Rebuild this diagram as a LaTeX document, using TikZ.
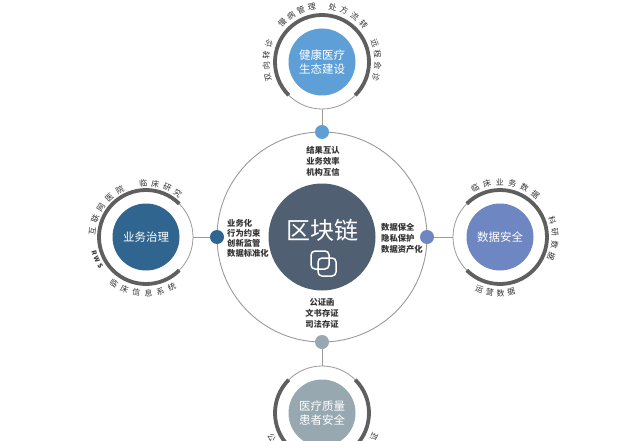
\documentclass[tikz,border=0pt]{standalone}
\usepackage{fontspec}
\setmainfont{Noto Sans CJK SC}
\usetikzlibrary{calc}
\definecolor{cTop}{HTML}{5E9FD8}
\definecolor{cLeft}{HTML}{30658F}
\definecolor{cRight}{HTML}{6E86C1}
\definecolor{cBot}{HTML}{97A8B1}
\definecolor{cMid}{HTML}{506072}
\definecolor{ringc}{HTML}{9A9A9A}
\definecolor{arcc}{HTML}{5F5F5F}
\definecolor{labc}{HTML}{333333}
\newcommand\arclab[7]{%
  \foreach \ch [count=\i] in {#7}{%
    \pgfmathsetmacro\ang{#4+(\i-1)*(#5)}%
    \pgfmathsetmacro\rot{\ang+#6}%
    \node[lab, rotate=\rot] (#1\i) at ($(#2)+(\ang:#3)$) {\ch};
  }}
\begin{document}
\begin{tikzpicture}[x=1pt,y=1pt,
  lab/.style={font=\fontsize{8}{9}\selectfont, text=labc, inner sep=0pt},
  rws/.style={font=\bfseries\fontsize{6.5}{7}\selectfont, text=labc, inner sep=0pt},
  hub/.style={circle, inner sep=0pt, minimum size=67pt, text=white, align=center,
              font=\fontsize{11.5}{14.5}\selectfont},
  dotn/.style={circle, inner sep=0pt, minimum size=14pt},
  ring/.style={draw=ringc, line width=0.8pt},
  bigarc/.style={draw=arcc, line width=3.8pt},
  conn/.style={draw=ringc, line width=1pt},
  inner/.style={font=\bfseries\fontsize{8.3}{11}\selectfont, text=labc, inner sep=0pt}]
\useasboundingbox (0,0) rectangle (639,440);
\fill[white] (0,0) rectangle (639,440);

% centre
\coordinate (M) at (322,203);
\draw[draw=ringc, line width=0.9pt] (M) circle (105);

% hub centres and ring end points
\coordinate (Tc) at (322,378);
\coordinate (Bc) at (322,27);
\coordinate (Lc) at (146,203);
\coordinate (Rc) at (500,203);
\coordinate (Te) at ($(Tc)+(0,-47)$);
\coordinate (Be) at ($(Bc)+(0,47)$);
\coordinate (Le) at ($(Lc)+(47,0)$);
\coordinate (Re) at ($(Rc)+(-47,0)$);

% dots on the big circle
\node[dotn, fill=cTop]   (dT) at ($(M)+(90:105)$) {};
\node[dotn, fill=cBot]   (dB) at ($(M)+(270:105)$) {};
\node[dotn, fill=cLeft]  (dL) at ($(M)+(180:105)$) {};
\node[dotn, fill=cRight] (dR) at ($(M)+(0:105)$) {};

% connectors
\draw[conn] (Te) -- (dT);
\draw[conn] (Be) -- (dB);
\draw[conn] (Le) -- (dL);
\draw[conn] (Re) -- (dR);

% rings
\foreach \c in {Tc,Bc,Lc,Rc} \draw[ring] (\c) circle (47);
\draw[bigarc] ($(Tc)+(-45:47)$) arc[start angle=-45, end angle=225, radius=47];
\draw[bigarc] ($(Bc)+(135:47)$) arc[start angle=135, end angle=405, radius=47];
\draw[bigarc] ($(Lc)+(45:47)$) arc[start angle=45, end angle=315, radius=47];
\draw[bigarc] ($(Rc)+(135:47)$) arc[start angle=135, end angle=-135, radius=47];

% hubs
\node[hub, fill=cTop]   (T) at (Tc) {健康医疗\\生态建设};
\node[hub, fill=cBot]   (B) at (Bc) {医疗质量\\患者安全};
\node[hub, fill=cLeft]  (L) at (Lc) {业务治理};
\node[hub, fill=cRight] (R) at (Rc) {数据安全};

% centre hub
\node[circle, fill=cMid, inner sep=0pt, minimum size=107pt] (C) at (M) {};
\node[text=white, inner sep=0pt, font=\fontsize{24}{24}\selectfont] (Ct) at (322,210) {区块链};
\draw[white, line width=1.5pt, rounded corners=4pt] (311,171) rectangle (329,189);
\draw[white, line width=1.5pt, rounded corners=4pt] (318,164) rectangle (336,182);

% inner texts
\node[inner, align=center] (iT) at (323,279) {结果互认\\业务效率\\机构互信};
\node[inner, align=center] (iB) at (322,127) {公证函\\文书存证\\司法存证};
\node[inner, align=left, anchor=west, font=\bfseries\fontsize{8.3}{10}\selectfont] (iL) at (227,202) {业务化\\行为约束\\创新监管\\数据标准化};
\node[inner, align=left, anchor=west] (iR) at (381,202) {数据保全\\隐私保护\\数据资产化};

% arc labels
\arclab{ta}{Tc}{56}{196}{-11.7}{-90}{双,向,转,诊}
\arclab{tb}{Tc}{56}{135}{-11.5}{-90}{慢,病,管,理}
\arclab{tc}{Tc}{56}{79}{-12.3}{-90}{处,方,流,转}
\arclab{td}{Tc}{56}{20}{-12}{-90}{远,程,会,诊}

\arclab{la}{Lc}{54}{174}{-13.75}{-90}{互,联,网,医,院}
\arclab{lb}{Lc}{54}{93}{-13}{-90}{临,床,研,究}
\foreach \ch [count=\i] in {R,W,S}{%
  \pgfmathsetmacro\ang{197+(\i-1)*7.5}%
  \pgfmathsetmacro\rot{\ang+90}%
  \node[rws, rotate=\rot] (lw\i) at ($(Lc)+(\ang:54)$) {\ch};
}
\arclab{ld}{Lc}{56}{235}{12.5}{90}{临,床,信,息,系,统}

\arclab{ra}{Rc}{55}{117}{-13.4}{-90}{临,床,业,务,数,据}
\arclab{rb}{Rc}{55}{18}{-13}{-90}{科,研,数,据}
\arclab{rc}{Rc}{56}{248.5}{11}{90}{运,营,数,据}

\arclab{ba}{Bc}{56}{206}{12}{90}{公}
\arclab{bb}{Bc}{57}{336}{12}{90}{证}
\end{tikzpicture}
\end{document}
